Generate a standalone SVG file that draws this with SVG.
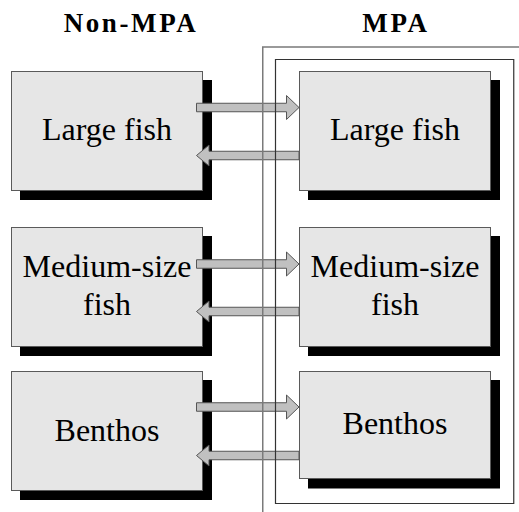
<svg xmlns="http://www.w3.org/2000/svg" width="519" height="512" viewBox="0 0 519 512">
<style>
.shadow{fill:#000}
.box{fill:#e6e6e6;stroke:#5a5a5a;stroke-width:1}
text{font-family:"Times New Roman","Liberation Serif",Tinos,"Noto Serif","DejaVu Serif",Times,serif}
.lbl{font-size:32px;fill:#000;text-anchor:middle}
.title{font-size:27px;font-weight:bold;fill:#000;text-anchor:middle;letter-spacing:2.6px}
.arrow{fill:#c0c0c0;stroke:#555;stroke-width:1;stroke-linejoin:miter}
.frame-outer{fill:none;stroke:#7a7a7a;stroke-width:1.5}
.frame-inner{fill:none;stroke:#333;stroke-width:1.2}
</style>
<rect width="519" height="512" fill="#fff"/>
<g id="titles">
<text class="title" x="131" y="32.3">Non-MPA</text>
<text class="title" x="396" y="32.3">MPA</text>
</g>
<g id="nonmpa-large">
<rect class="shadow" x="20" y="80" width="192" height="120"/>
<rect class="box" x="11.5" y="71.5" width="191" height="119"/>
<text class="lbl" x="107" y="140">Large fish</text>
</g>
<g id="nonmpa-medium">
<rect class="shadow" x="20" y="236" width="192" height="120"/>
<rect class="box" x="11.5" y="227.5" width="191" height="119"/>
<text class="lbl" x="107" y="277">Medium-size</text>
<text class="lbl" x="107" y="315">fish</text>
</g>
<g id="nonmpa-benthos">
<rect class="shadow" x="20" y="380" width="192" height="120"/>
<rect class="box" x="11.5" y="371.5" width="191" height="119"/>
<text class="lbl" x="107" y="440.7">Benthos</text>
</g>
<g id="mpa-large">
<rect class="shadow" x="308" y="80" width="192" height="120"/>
<rect class="box" x="299.5" y="71.5" width="191" height="119"/>
<text class="lbl" x="395" y="140">Large fish</text>
</g>
<g id="mpa-medium">
<rect class="shadow" x="308" y="236" width="192" height="120"/>
<rect class="box" x="299.5" y="227.5" width="191" height="119"/>
<text class="lbl" x="395" y="277">Medium-size</text>
<text class="lbl" x="395" y="315">fish</text>
</g>
<g id="mpa-benthos">
<rect class="shadow" x="308" y="380" width="192" height="108.5"/>
<rect class="box" x="299.5" y="371.5" width="191" height="107"/>
<text class="lbl" x="395" y="434.3">Benthos</text>
</g>
<g id="connectors">
<path class="arrow" d="M196.5,103.25 H286.5 V95.5 L299,107.5 L286.5,119.5 V111.75 H196.5 Z"/>
<path class="arrow" d="M299,151.25 H209 V145 L196.5,155.5 L209,166 V159.75 H299 Z"/>
<path class="arrow" d="M196.5,259.75 H286.5 V252 L299,264 L286.5,276 V268.25 H196.5 Z"/>
<path class="arrow" d="M299,307.25 H209 V301 L196.5,311.5 L209,322 V315.75 H299 Z"/>
<path class="arrow" d="M196.5,402.75 H286.5 V395 L299,407 L286.5,419 V411.25 H196.5 Z"/>
<path class="arrow" d="M299,451.25 H209 V445 L196.5,455.5 L209,466 V459.75 H299 Z"/>
</g>
<g id="mpa-frame">
<path class="frame-outer" d="M262.75,512 V47 H519"/>
<path class="frame-inner" d="M275.5,59.5 H513.75 V503.5 H275.5 Z"/>
</g>
</svg>
